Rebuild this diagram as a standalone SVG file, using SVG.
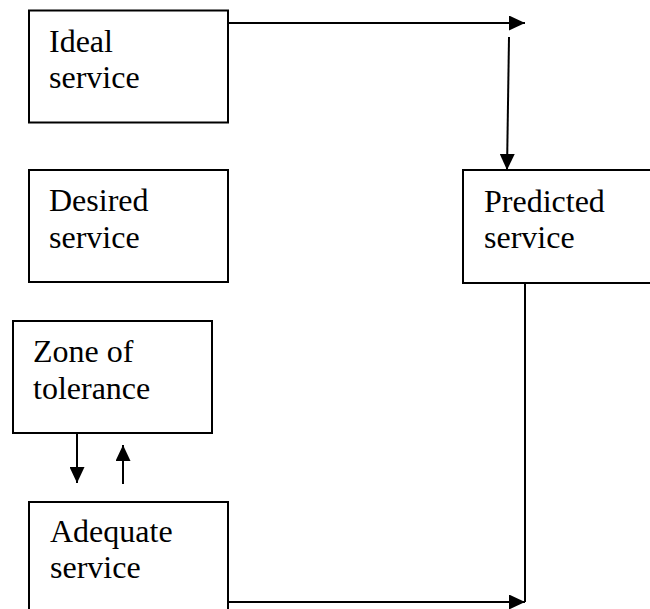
<svg xmlns="http://www.w3.org/2000/svg" width="650" height="609" viewBox="0 0 650 609">
  <style>
    .box { fill: #fff; stroke: #000; stroke-width: 2; }
    .lbl { font-family: "Liberation Serif", "Times New Roman", serif; font-size: 32px; fill: #000; }
    .con { fill: none; stroke: #000; stroke-width: 2; }
  </style>
  <defs>
    <marker id="arrow" viewBox="0 0 16 15" refX="16" refY="7.5" markerWidth="16" markerHeight="15" markerUnits="userSpaceOnUse" orient="auto">
      <path d="M0,0 L16,7.5 L0,15 Z" fill="#000"/>
    </marker>
  </defs>
  <rect width="650" height="609" fill="#fff"/>

  <g id="ideal">
    <rect class="box" x="29" y="10.5" width="199" height="112"/>
    <text class="lbl" x="49" y="52">Ideal</text>
    <text class="lbl" x="49" y="88">service</text>
  </g>

  <g id="desired">
    <rect class="box" x="29" y="170" width="199" height="112"/>
    <text class="lbl" x="49" y="211">Desired</text>
    <text class="lbl" x="49" y="248">service</text>
  </g>

  <g id="zone">
    <rect class="box" x="13" y="321" width="199" height="112"/>
    <text class="lbl" x="33" y="362">Zone of</text>
    <text class="lbl" x="33" y="399">tolerance</text>
  </g>

  <g id="adequate">
    <rect class="box" x="29" y="502" width="199" height="120"/>
    <text class="lbl" x="50" y="542">Adequate</text>
    <text class="lbl" x="50" y="578">service</text>
  </g>

  <g id="predicted">
    <rect class="box" x="463" y="170" width="200" height="113"/>
    <text class="lbl" x="484" y="212">Predicted</text>
    <text class="lbl" x="484" y="248">service</text>
  </g>

  <g id="connectors">
    <line class="con" x1="228" y1="23" x2="525" y2="23" marker-end="url(#arrow)"/>
    <line class="con" x1="509" y1="37" x2="507" y2="170" marker-end="url(#arrow)"/>
    <line class="con" x1="77" y1="433" x2="77" y2="483" marker-end="url(#arrow)"/>
    <line class="con" x1="123" y1="484" x2="123" y2="445" marker-end="url(#arrow)"/>
    <line class="con" x1="525" y1="283" x2="525" y2="602"/>
    <line class="con" x1="228" y1="602" x2="525" y2="602" marker-end="url(#arrow)"/>
  </g>
</svg>
